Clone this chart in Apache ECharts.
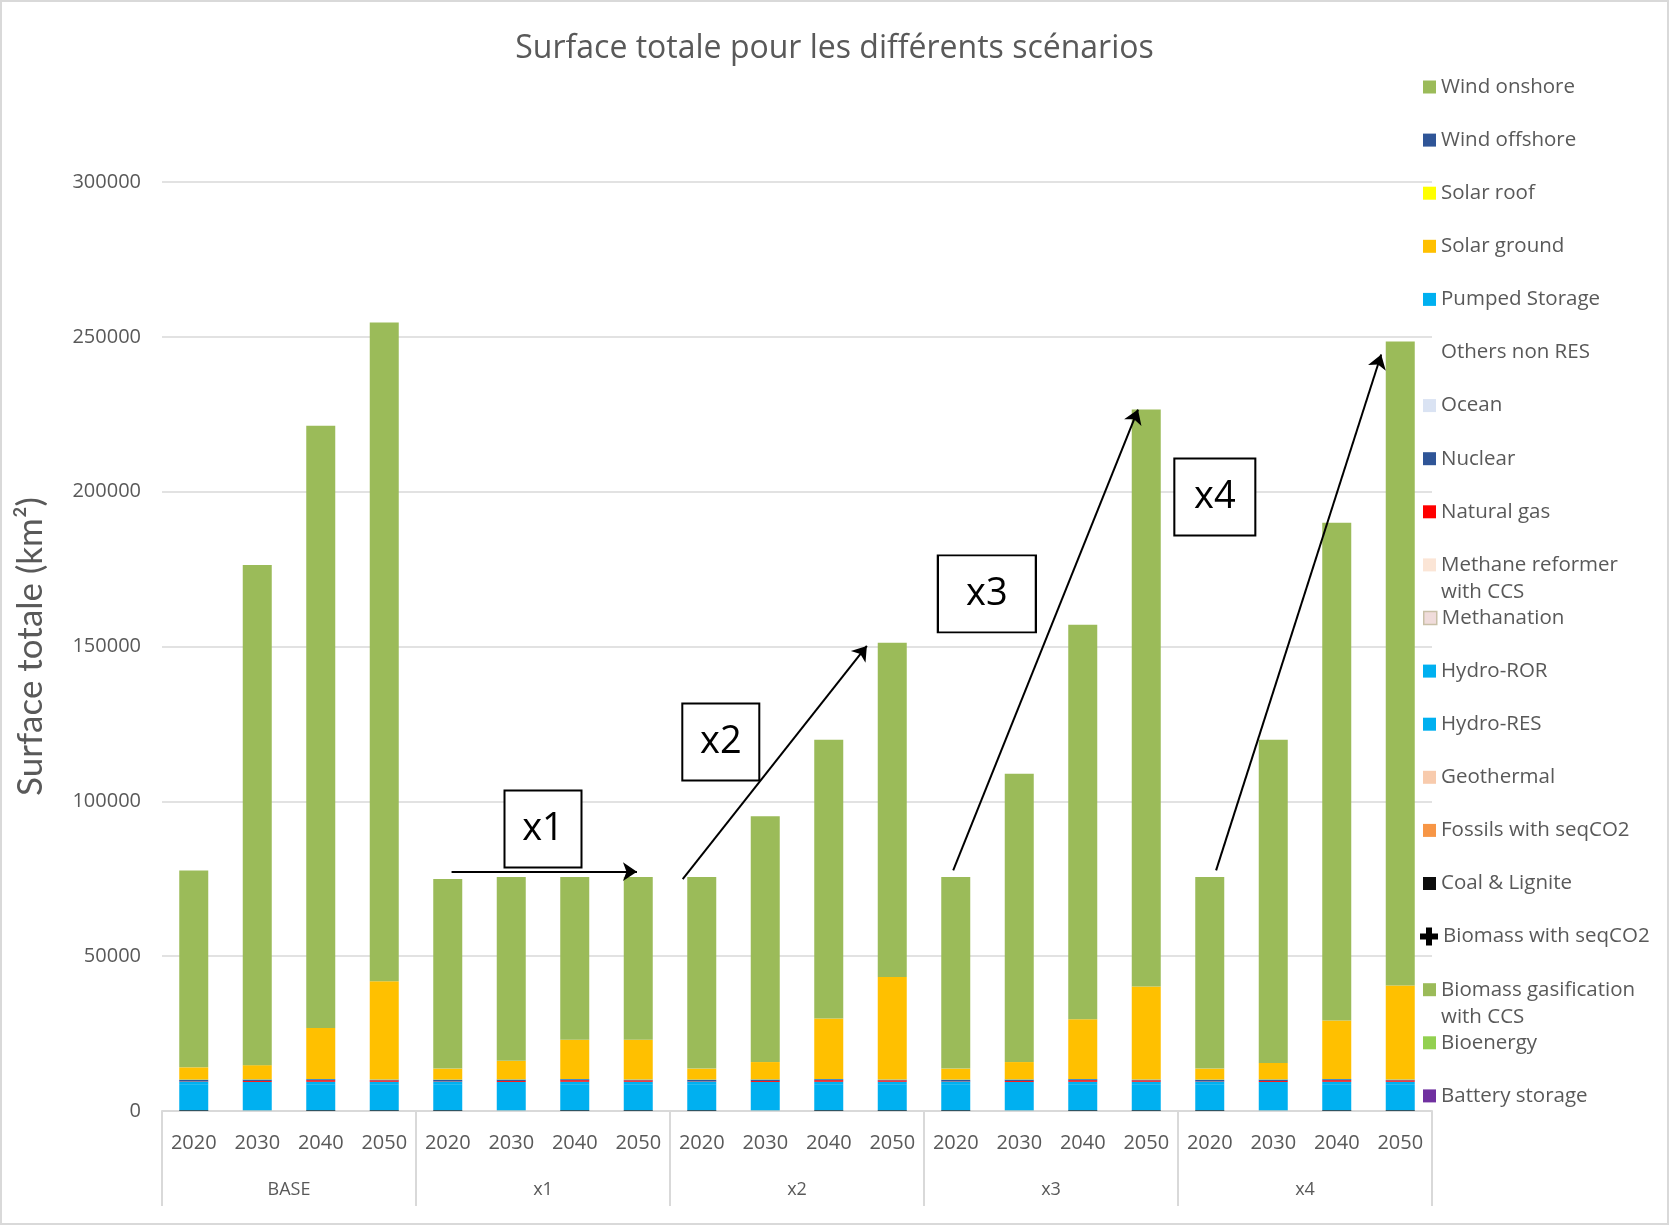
<!DOCTYPE html>
<html>
<head>
<meta charset="utf-8">
<script src="https://cdn.jsdelivr.net/npm/echarts@6/dist/echarts.min.js"></script>
<style>
  html, body { margin: 0; padding: 0; background: #fff; }
  #chart { width: 1669px; height: 1225px; }
</style>
</head>
<body>
<div id="chart"></div>
<script>
// categories
var groups = ['BASE', 'x1', 'x2', 'x3', 'x4'];
var years = ['2020', '2030', '2040', '2050'];
var yTicks = [0, 50000, 100000, 150000, 200000, 250000, 300000];

// series values (km²), 20 bars: BASE 2020..2050, x1 ..., x4 ...
var coalLignite  = [250, 0, 250, 250, 250, 0, 250, 250, 250, 0, 250, 250, 250, 0, 250, 250, 250, 0, 250, 250];
var geothermal   = [0, 200, 0, 0, 0, 200, 0, 0, 0, 200, 0, 0, 0, 200, 0, 0, 0, 200, 0, 0];
var hydroRES     = [8200, 8200, 8200, 8200, 8200, 8200, 8200, 8200, 8200, 8200, 8200, 8200, 8200, 8200, 8200, 8200, 8200, 8200, 8200, 8200];
var hydroROR     = [1000, 1000, 1000, 1000, 1000, 1000, 1000, 1000, 1000, 1000, 1000, 1000, 1000, 1000, 1000, 1000, 1000, 1000, 1000, 1000];
var naturalGas   = [100, 300, 500, 450, 100, 300, 500, 450, 100, 300, 500, 450, 100, 300, 500, 450, 100, 300, 500, 450];
var nuclear      = [500, 400, 300, 150, 500, 400, 300, 150, 500, 400, 300, 150, 500, 400, 300, 150, 500, 400, 300, 150];
var pumpedStor   = [100, 100, 100, 100, 100, 100, 100, 100, 100, 100, 100, 100, 100, 100, 100, 100, 100, 100, 100, 100];
var solarGround  = [3950, 4600, 16450, 31750, 3550, 6000, 12650, 12850, 3550, 5600, 19550, 33150, 3550, 5600, 19250, 30050, 3550, 5300, 18850, 30350];
var windOnshore  = [63600, 161500, 194500, 212700, 61200, 59400, 52600, 52600, 61900, 79400, 90000, 107900, 61900, 93100, 127400, 186300, 61900, 104400, 160800, 208000];

// annotations: arrows [x0, y0, x1, y1] in bar-index / value units, boxes [label, x, y, width]
var arrows = [
  [4.06, 77300, 6.98, 77300],
  [7.70, 74900, 10.6, 150200],
  [11.96, 77700, 14.87, 226500],
  [16.1, 77700, 18.7, 244300]
];
var boxes = [
  ['x1', 5.50, 91100, 77],
  ['x2', 8.30, 119200, 77],
  ['x3', 12.49, 167000, 98],
  ['x4', 16.08, 198300, 81]
];

var categories = [];
groups.forEach(function(g) {
  years.forEach(function(y) { categories.push(y); });
});

// stack order, bottom -> top
var seriesDefs = [
  { name: 'Battery storage', color: '#7030A0', data: [] },
  { name: 'Bioenergy', color: '#92D050', data: [] },
  { name: 'Biomass gasification with CCS', color: '#9BBB59', data: [] },
  { name: 'Biomass with seqCO2', color: '#000000', data: [] },
  { name: 'Coal & Lignite', color: '#0D0D0D', data: coalLignite },
  { name: 'Fossils with seqCO2', color: '#F79646', data: [] },
  { name: 'Geothermal', color: '#F8CBAD', data: geothermal },
  { name: 'Hydro-RES', color: '#00B0F0', data: hydroRES },
  { name: 'Hydro-ROR', color: '#00B0F0', data: hydroROR },
  { name: 'Methanation', color: '#F0DCDB', data: [] },
  { name: 'Methane reformer with CCS', color: '#FBE5D6', data: [] },
  { name: 'Natural gas', color: '#FF0000', data: naturalGas },
  { name: 'Nuclear', color: '#2F5597', data: nuclear },
  { name: 'Ocean', color: '#DAE3F3', data: [] },
  { name: 'Others non RES', color: '#FFFFFF', data: [] },
  { name: 'Pumped Storage', color: '#00B0F0', data: pumpedStor },
  { name: 'Solar ground', color: '#FFC000', data: solarGround },
  { name: 'Solar roof', color: '#FFFF00', data: [] },
  { name: 'Wind offshore', color: '#2F5597', data: [] },
  { name: 'Wind onshore', color: '#9BBB59', data: windOnshore }
];

var series = seriesDefs.map(function(s) {
  return {
    name: s.name,
    type: 'bar',
    stack: 'total',
    barWidth: 29,
    itemStyle: { color: s.color },
    data: s.data
  };
});

// annotations (arrows and boxed labels) on a hidden value x axis
series.push({
  type: 'scatter',
  xAxisIndex: 2,
  data: [],
  silent: true,
  markLine: {
    silent: true,
    symbol: ['none', 'arrow'],
    symbolSize: 14,
    label: { show: false },
    lineStyle: { color: '#000', width: 2, type: 'solid' },
    data: arrows.map(function(a) {
      return [{ coord: [a[0], a[1]] }, { coord: [a[2], a[3]] }];
    })
  },
  markPoint: {
    silent: true,
    symbol: 'rect',
    itemStyle: { color: '#fff', borderColor: '#000', borderWidth: 2 },
    label: { show: true, formatter: '{b}', color: '#000', fontSize: 38, fontFamily: 'Open Sans' },
    data: boxes.map(function(b) {
      return { name: b[0], coord: [b[1], b[2]], symbolSize: [b[3], 77] };
    })
  }
});

// legend: one component per entry, so spacing is uniform like the original
var legendOrder = seriesDefs.map(function(s) { return s.name; }).reverse();
var lineH = 27;
var legends = legendOrder.map(function(name, i) {
  var center = 82 + 53.1 * i;
  var twoLine = name === 'Methane reformer with CCS' || name === 'Biomass gasification with CCS';
  var lg = {
    orient: 'vertical',
    left: 1418,
    top: twoLine ? center - lineH * 1.5 : center - lineH / 2,
    data: [name],
    icon: 'rect',
    itemWidth: 13,
    itemHeight: 13,
    itemGap: 0,
    selectedMode: false,
    textStyle: { fontFamily: 'Open Sans', fontSize: 20.5, color: '#595959', lineHeight: lineH },
    formatter: function(n) {
      if (n === 'Methane reformer with CCS') return '\nMethane reformer\nwith CCS';
      if (n === 'Biomass gasification with CCS') return '\nBiomass gasification\nwith CCS';
      return n;
    }
  };
  if (name === 'Others non RES') lg.itemStyle = { opacity: 0 };
  if (name === 'Methanation') lg.itemStyle = { borderColor: '#C9C0A8', borderWidth: 1.5 };
  if (name === 'Biomass with seqCO2') {
    lg.icon = 'path://M6,0H12V6H6Z M0,6H6V12H0Z M12,6H18V12H12Z M6,12H12V18H6Z M6,6H12V12H6Z';
    lg.itemWidth = 18;
    lg.itemHeight = 18;
    lg.left = 1415;
  }
  return lg;
});

var chart = echarts.init(document.getElementById('chart'));
chart.setOption({
  animation: false,
  backgroundColor: '#fff',
  title: {
    text: 'Surface totale pour les différents scénarios',
    left: 'center',
    top: 28,
    textStyle: { fontFamily: 'Open Sans', fontSize: 32, fontWeight: 'normal', color: '#595959' }
  },
  graphic: [{
    type: 'rect',
    shape: { x: 1, y: 1, width: 1667, height: 1223 },
    style: { fill: 'none', stroke: '#D9D9D9', lineWidth: 2 },
    silent: true
  }],
  legend: legends,
  grid: { left: 162, right: 237, top: 182, bottom: 114 },
  xAxis: [
    {
      type: 'category',
      data: categories,
      axisLine: { lineStyle: { color: '#D9D9D9', width: 2 } },
      axisTick: { show: false },
      axisLabel: { margin: 22, fontFamily: 'Open Sans', fontSize: 20, color: '#595959', interval: 0 }
    },
    {
      type: 'category',
      data: groups,
      position: 'bottom',
      axisLine: { show: false },
      axisTick: { show: true, length: 95, lineStyle: { color: '#D9D9D9', width: 2 } },
      axisLabel: { margin: 70, fontFamily: 'Open Sans', fontSize: 18, color: '#595959' }
    },
    {
      type: 'value',
      min: -0.5,
      max: 19.5,
      show: false
    }
  ],
  yAxis: {
    type: 'value',
    min: yTicks[0],
    max: yTicks[yTicks.length - 1],
    interval: 50000,
    name: 'Surface totale (km²)',
    nameLocation: 'middle',
    nameGap: 114,
    nameTextStyle: { fontFamily: 'Lato', fontSize: 35, color: '#595959' },
    axisLine: { show: false },
    axisTick: { show: false },
    axisLabel: {
      margin: 21, fontFamily: 'Open Sans', fontSize: 20, color: '#595959',
      formatter: function(v) { return String(v); }
    },
    splitLine: { lineStyle: { color: '#D9D9D9', width: 1.5 } }
  },
  series: series
});
</script>
</body>
</html>
